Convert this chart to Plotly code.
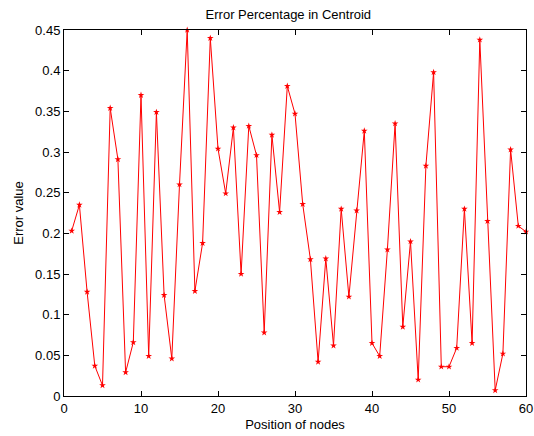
import plotly.graph_objects as go

positions = list(range(1, 61))
error_values = [
    0.203, 0.235, 0.128, 0.037, 0.013, 0.354, 0.291, 0.029, 0.066, 0.370,
    0.049, 0.349, 0.124, 0.046, 0.260, 0.450, 0.129, 0.188, 0.440, 0.304,
    0.249, 0.330, 0.150, 0.332, 0.296, 0.078, 0.321, 0.226, 0.381, 0.347,
    0.236, 0.168, 0.042, 0.169, 0.062, 0.230, 0.122, 0.228, 0.326, 0.065,
    0.049, 0.180, 0.335, 0.085, 0.190, 0.020, 0.283, 0.398, 0.036, 0.036,
    0.059, 0.230, 0.065, 0.438, 0.215, 0.007, 0.052, 0.303, 0.209, 0.202,
]
x_ticks = [0, 10, 20, 30, 40, 50, 60]
y_ticks = [0, 0.05, 0.1, 0.15, 0.2, 0.25, 0.3, 0.35, 0.4, 0.45]
y_tick_labels = ["0", "0.05", "0.1", "0.15", "0.2", "0.25", "0.3", "0.35", "0.4", "0.45"]

FONT = "Liberation Sans, Arial, sans-serif"

fig = go.Figure()
fig.add_trace(go.Scatter(
    x=positions, y=error_values, mode="lines+markers",
    line=dict(color="#ff0000", width=1),
    marker=dict(symbol="star", size=5, color="#ff0000"),
    cliponaxis=False,
))

axis_common = dict(
    showgrid=False, zeroline=False, showline=True, linecolor="black", linewidth=1,
    mirror="ticks", ticks="inside", ticklen=5, tickcolor="black",
    ticklabeloverflow="allow", automargin=False,
    tickfont=dict(family=FONT, size=13, color="black"),
)

fig.update_layout(
    width=534, height=436,
    margin=dict(l=64, r=8, t=30, b=40),
    paper_bgcolor="white", plot_bgcolor="white",
    showlegend=False,
    title=dict(text="Error Percentage in Centroid", x=0.54, xanchor="center",
               y=0.968, yanchor="middle",
               font=dict(family=FONT, size=13, color="black")),
    xaxis=dict(range=[0, 60], tickvals=x_ticks, ticktext=[str(v) for v in x_ticks],
               title=dict(text="Position of nodes", standoff=5,
                          font=dict(family=FONT, size=13, color="black")),
               **axis_common),
    yaxis=dict(range=[0, 0.45], tickvals=y_ticks, ticktext=y_tick_labels,
               title=dict(text="Error value", standoff=8,
                          font=dict(family=FONT, size=13, color="black")),
               **axis_common),
)

fig.write_html("out.html", config={"displayModeBar": False},
               post_script="document.body.style.margin='0';document.body.style.overflow='hidden';")
